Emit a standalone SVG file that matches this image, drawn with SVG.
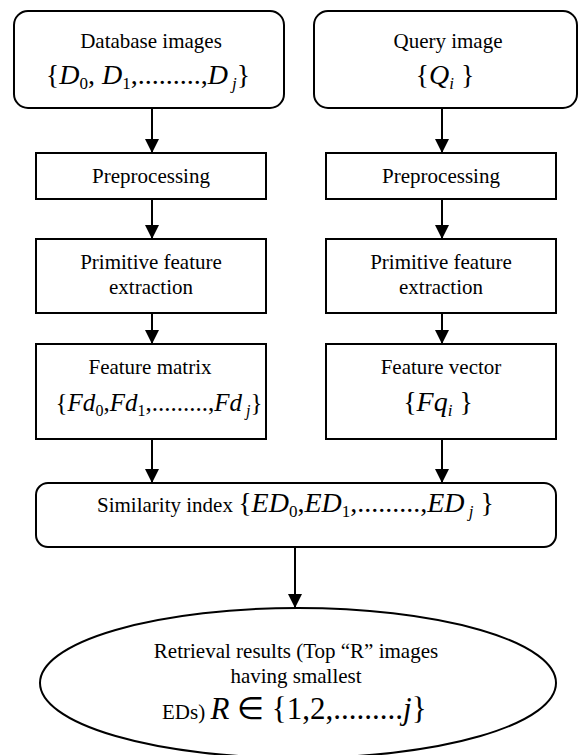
<svg xmlns="http://www.w3.org/2000/svg" width="579" height="755" viewBox="0 0 579 755">
<style>
.box{fill:#fff;stroke:#000;stroke-width:2}
.lbl{font-family:"Liberation Serif","Times New Roman",serif;font-size:21px;fill:#000;text-anchor:middle}
.math{font-family:"Liberation Serif","Times New Roman",serif;font-size:28px;fill:#000;text-anchor:middle}
.it{font-style:italic}
.sub{font-size:17px}
.con{stroke:#000;stroke-width:2;fill:none;marker-end:url(#ah)}
</style>
<defs>
<marker id="ah" markerUnits="userSpaceOnUse" markerWidth="14" markerHeight="14" refX="14" refY="7" orient="auto">
<path d="M0,0 L14,7 L0,14 z" fill="#000"/>
</marker>
</defs>
<g id="connectors">
<line class="con" x1="152" y1="108" x2="152" y2="153"/>
<line class="con" x1="442" y1="108" x2="442" y2="153"/>
<line class="con" x1="152" y1="199" x2="152" y2="239"/>
<line class="con" x1="442" y1="199" x2="442" y2="239"/>
<line class="con" x1="152" y1="313" x2="152" y2="344"/>
<line class="con" x1="442" y1="313" x2="442" y2="344"/>
<line class="con" x1="152" y1="439" x2="152" y2="483"/>
<line class="con" x1="442" y1="439" x2="442" y2="483"/>
<line class="con" x1="295" y1="547" x2="295" y2="608"/>
</g>
<g id="db">
<rect class="box" x="14" y="11" width="270" height="97" rx="14"/>
<text class="lbl" x="151" y="48">Database images</text>
<text class="math" x="148" y="84">{<tspan class="it">D</tspan><tspan class="sub" dy="5">0</tspan><tspan dy="-5">, </tspan><tspan class="it">D</tspan><tspan class="sub" dy="5">1</tspan><tspan dy="-5">,.........,</tspan><tspan class="it">D</tspan><tspan class="sub it" dy="5"> j</tspan><tspan dy="-5">}</tspan></text>
</g>
<g id="query">
<rect class="box" x="314" y="11" width="263" height="97" rx="14"/>
<text class="lbl" x="448" y="48">Query image</text>
<text class="math" x="445" y="84">{<tspan class="it">Q</tspan><tspan class="sub it" dy="5">i</tspan><tspan dy="-5"> }</tspan></text>
</g>
<g id="pre1">
<rect class="box" x="36" y="153" width="230" height="46"/>
<text class="lbl" x="151" y="183">Preprocessing</text>
</g>
<g id="pre2">
<rect class="box" x="326" y="153" width="230" height="46"/>
<text class="lbl" x="441" y="183">Preprocessing</text>
</g>
<g id="prim1">
<rect class="box" x="36" y="239" width="230" height="74"/>
<text class="lbl" x="151" y="269">Primitive feature</text>
<text class="lbl" x="151" y="294">extraction</text>
</g>
<g id="prim2">
<rect class="box" x="326" y="239" width="230" height="74"/>
<text class="lbl" x="441" y="269">Primitive feature</text>
<text class="lbl" x="441" y="294">extraction</text>
</g>
<g id="fmat">
<rect class="box" x="36" y="344" width="230" height="95"/>
<text class="lbl" x="150" y="374">Feature matrix</text>
<text class="math" x="159" y="411" style="font-size:25px">{<tspan class="it">Fd</tspan><tspan class="sub" dy="5" style="font-size:16px">0</tspan><tspan dy="-5">,</tspan><tspan class="it">Fd</tspan><tspan class="sub" dy="5" style="font-size:16px">1</tspan><tspan dy="-5">,.........,</tspan><tspan class="it">Fd</tspan><tspan class="sub it" dy="5" style="font-size:16px"> j</tspan><tspan dy="-5">}</tspan></text>
</g>
<g id="fvec">
<rect class="box" x="326" y="344" width="230" height="95"/>
<text class="lbl" x="441" y="374">Feature vector</text>
<text class="math" x="438" y="411">{<tspan class="it">Fq</tspan><tspan class="sub it" dy="5">i</tspan><tspan dy="-5"> }</tspan></text>
</g>
<g id="sim">
<rect class="box" x="36" y="483" width="520" height="64" rx="12"/>
<text x="97" y="512" style="font-family:'Liberation Serif','Times New Roman',serif;font-size:21px">Similarity index <tspan style="font-size:28px">{</tspan><tspan class="it" style="font-size:28px">ED</tspan><tspan class="sub" dy="5">0</tspan><tspan dy="-5" style="font-size:28px">,</tspan><tspan class="it" style="font-size:28px">ED</tspan><tspan class="sub" dy="5">1</tspan><tspan dy="-5" style="font-size:28px">,.........,</tspan><tspan class="it" style="font-size:28px">ED</tspan><tspan class="sub it" dy="5"> j</tspan><tspan dy="-5" style="font-size:28px"> }</tspan></text>
</g>
<g id="result">
<ellipse class="box" cx="298" cy="683" rx="258" ry="75"/>
<text class="lbl" x="296" y="658">Retrieval results (Top “R” images</text>
<text class="lbl" x="296" y="683">having smallest</text>
<text x="162" y="719" style="font-family:'Liberation Serif','Times New Roman',serif;font-size:21px">EDs) <tspan class="it" style="font-size:31px">R</tspan><tspan style="font-size:31px"> ∈ {1,2,.........<tspan class="it">j</tspan>}</tspan></text>
</g>
</svg>
